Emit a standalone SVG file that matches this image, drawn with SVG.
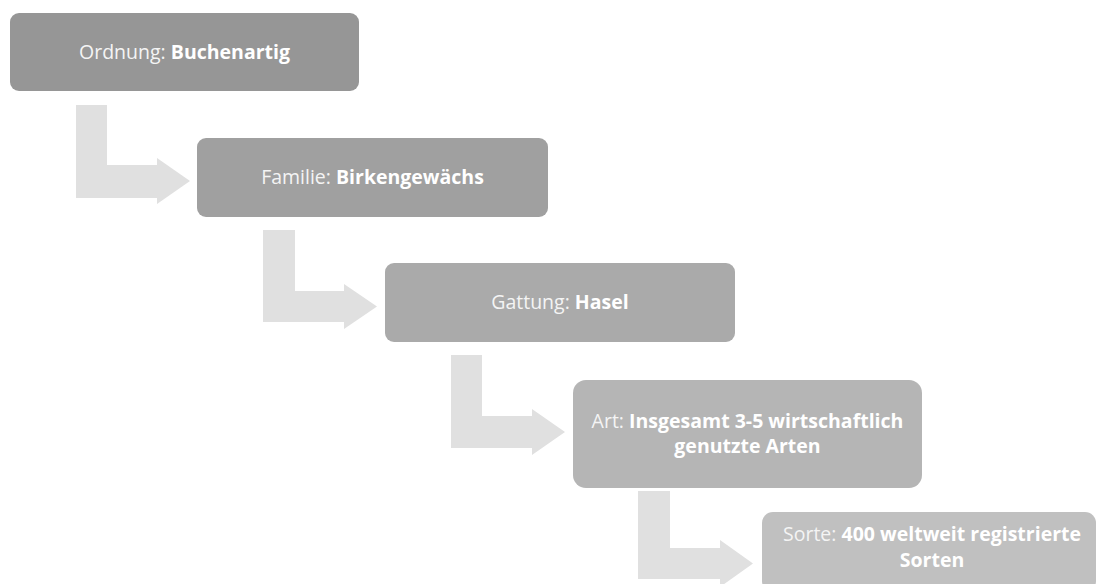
<svg xmlns="http://www.w3.org/2000/svg" width="1097" height="584" viewBox="0 0 1097 584">
<style>
  .t { font-family: "Open Sans", "Liberation Sans", Arial, sans-serif; font-size: 19.5px; text-anchor: middle; }
  .r { fill: #f4f4f4; font-weight: normal; }
  .b { fill: #ffffff; font-weight: bold; }
  .arrow { fill: #e0e0e0; }
</style>
<rect width="1097" height="584" fill="#ffffff"/>
<g id="connectors">
  <polygon class="arrow" points="76,105 107,105 107,165 157,165 157,158 190,181 157,204 157,198 76,198"/>
  <polygon class="arrow" points="263,230 295,230 295,291 344,291 344,284 377,306.5 344,329 344,322 263,322"/>
  <polygon class="arrow" points="451,355 482,355 482,416 532,416 532,409 565,432 532,455 532,448 451,448"/>
  <polygon class="arrow" points="638,491 670,491 670,548 720,548 720,540 753,563.5 720,587 720,579 638,579"/>
</g>
<g id="node-ordnung">
  <rect x="10" y="13" width="349" height="78" rx="9" fill="#969696"/>
  <text class="t" x="184.5" y="59"><tspan class="r">Ordnung: </tspan><tspan class="b">Buchenartig</tspan></text>
</g>
<g id="node-familie">
  <rect x="197" y="138" width="351" height="79" rx="9" fill="#a0a0a0"/>
  <text class="t" x="372.5" y="184"><tspan class="r">Familie: </tspan><tspan class="b">Birkengewächs</tspan></text>
</g>
<g id="node-gattung">
  <rect x="385" y="263" width="350" height="79" rx="9" fill="#aaaaaa"/>
  <text class="t" x="560" y="309"><tspan class="r">Gattung: </tspan><tspan class="b">Hasel</tspan></text>
</g>
<g id="node-art">
  <rect x="573" y="380" width="349" height="108" rx="13" fill="#b5b5b5"/>
  <text class="t" x="747.5" y="428"><tspan class="r">Art: </tspan><tspan class="b">Insgesamt 3-5 wirtschaftlich</tspan></text>
  <text class="t b" x="747.5" y="453">genutzte Arten</text>
</g>
<g id="node-sorte">
  <rect x="762" y="512" width="334" height="80" rx="11" fill="#c0c0c0"/>
  <text class="t" x="932" y="541"><tspan class="r">Sorte: </tspan><tspan class="b">400 weltweit registrierte</tspan></text>
  <text class="t b" x="932" y="567">Sorten</text>
</g>
</svg>
